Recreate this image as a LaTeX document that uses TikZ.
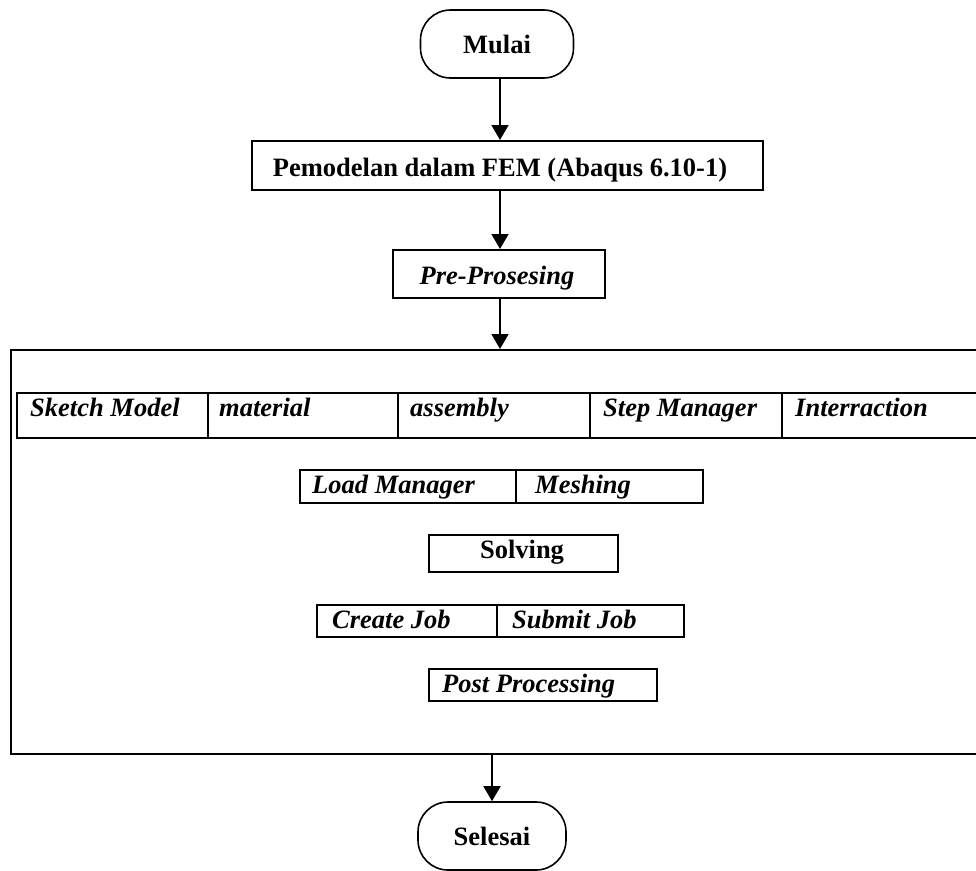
\documentclass[tikz,border=0pt]{standalone}
\usepackage{fontspec}
\setmainfont{Liberation Serif}
\usetikzlibrary{arrows.meta}
\begin{document}
\begin{tikzpicture}[x=1pt,y=-1pt,
  box/.style={draw, line width=1.6pt, inner sep=0pt, anchor=north west},
  term/.style={draw, line width=1.6pt, rounded corners=30pt, inner sep=0pt,
    font=\fontsize{26.5}{30}\selectfont\bfseries},
  upr/.style={font=\fontsize{26.5}{30}\selectfont\bfseries},
  itl/.style={font=\fontsize{26.5}{30}\selectfont\bfseries\itshape},
  lbl/.style={itl, anchor=base west, inner sep=0pt},
  arr/.style={line width=1.6pt, -{Triangle[length=15pt,width=17pt]}}
]
\useasboundingbox (0,0) rectangle (976,870);
\clip (0,0) rectangle (976,870);
\node[term, minimum width=153pt, minimum height=68pt] (mulai) at (497,44) {Mulai};
\node[box, minimum width=511pt, minimum height=49pt] (model) at (251,140) {};
\node[upr, anchor=base, inner sep=0pt] (tmodel) at (500,176) {Pemodelan dalam FEM (Abaqus 6.10-1)};
\node[box, minimum width=212pt, minimum height=48pt] (pre) at (392,249) {};
\node[itl, anchor=base, inner sep=0pt] (tpre) at (497,284) {Pre-Prosesing};
\node[box, minimum width=990pt, minimum height=404pt] (big) at (10,349) {};
% row of cells
\node[box, minimum width=191pt, minimum height=45pt] (c1) at (16,392) {};
\node[box, minimum width=190pt, minimum height=45pt] (c2) at (207,392) {};
\node[box, minimum width=192pt, minimum height=45pt] (c3) at (397,392) {};
\node[box, minimum width=192pt, minimum height=45pt] (c4) at (589,392) {};
\node[box, minimum width=220pt, minimum height=45pt] (c5) at (781,392) {};
\node[lbl] (t1) at (30,416) {Sketch Model};
\node[lbl] (t2) at (219,416) {material};
\node[lbl] (t3) at (410,416) {assembly};
\node[lbl] (t4) at (603,416) {Step Manager};
\node[lbl] (t5) at (795,416) {Interraction};
% load / meshing
\node[box, minimum width=216pt, minimum height=33pt] (lm) at (299,469) {};
\node[box, minimum width=187pt, minimum height=33pt] (me) at (515,469) {};
\node[lbl] (tlm) at (312,493) {Load Manager};
\node[lbl] (tme) at (535,493) {Meshing};
% solving
\node[box, minimum width=189pt, minimum height=37pt] (sol) at (428,534) {};
\node[upr, anchor=base, inner sep=0pt] (tsol) at (522,558) {Solving};
% jobs
\node[box, minimum width=180pt, minimum height=32pt] (cj) at (316,604) {};
\node[box, minimum width=187pt, minimum height=32pt] (sj) at (496,604) {};
\node[lbl] (tcj) at (332,628) {Create Job};
\node[lbl] (tsj) at (512,628) {Submit Job};
% post
\node[box, minimum width=228pt, minimum height=32pt] (pp) at (428,668) {};
\node[lbl] (tpp) at (442,692) {Post Processing};
% end
\node[term, minimum width=148pt, minimum height=68pt] (sel) at (492,836) {Selesai};
% arrows
\draw[arr] (mulai.south -| tmodel.base) -- (tmodel.base |- model.north);
\draw[arr] (model.south -| tmodel.base) -- (tmodel.base |- pre.north);
\draw[arr] (pre.south -| tmodel.base) -- (tmodel.base |- big.north);
\draw[arr] (sel.north |- big.south) -- (sel.north);
\end{tikzpicture}
\end{document}
